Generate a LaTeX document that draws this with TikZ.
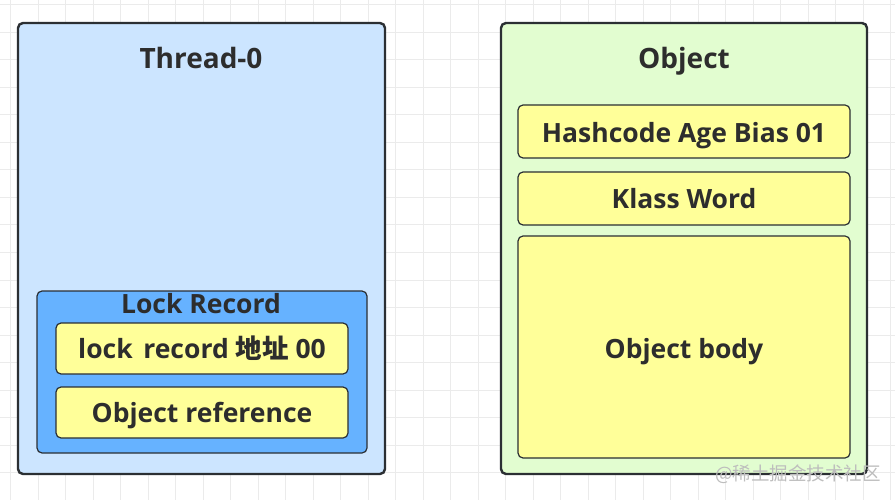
\documentclass[tikz,border=0pt]{standalone}
\usepackage{fontspec}
\setmainfont{Open Sans}
\newfontfamily\cjk{Noto Sans CJK SC}
\definecolor{bordc}{HTML}{2B2F33}
\definecolor{txtc}{HTML}{2D2D2D}
\definecolor{threadfill}{HTML}{CCE5FF}
\definecolor{lockfill}{HTML}{66B2FF}
\definecolor{yellowfill}{HTML}{FFFF99}
\definecolor{objfill}{HTML}{E2FDD0}
\definecolor{gridc}{HTML}{EBEBEB}
\definecolor{wmc}{HTML}{BDBDBD}
\begin{document}
\begin{tikzpicture}[x=1pt,y=-1pt,
  outerbox/.style={draw=bordc,line width=2.4pt,rounded corners=5pt},
  innerbox/.style={draw=bordc,line width=1.2pt,rounded corners=5pt},
  titletxt/.style={font=\fontsize{28}{32}\selectfont\bfseries,text=txtc,inner sep=0pt,anchor=base},
  labeltxt/.style={font=\fontsize{26.5}{30}\selectfont\bfseries,text=txtc,inner sep=0pt,anchor=base}]
\useasboundingbox (0,0) rectangle (895,500);
\fill[white] (0,0) rectangle (895,500);
% grid
\foreach \gx in {0,...,32} {\draw[gridc,line width=1pt] ({10.5+27.5*\gx},0) -- ({10.5+27.5*\gx},500);}
\foreach \gy in {0,...,18} {\draw[gridc,line width=1pt] (0,{5+27.5*\gy}) -- (895,{5+27.5*\gy});}
% Thread-0
\draw[outerbox,fill=threadfill] (18,23) rectangle (385,474);
\node[titletxt] (thread) at (201,69) {Thread-0};
\draw[innerbox,fill=lockfill] (37,291) rectangle (367,453);
\node[labeltxt] (lock) at (201,313) {Lock Record};
\draw[innerbox,fill=yellowfill] (56,323) rectangle (348,374);
\node[labeltxt] (lrec) at (202,358) {lock\hspace{0.4em}record {\cjk 地址} 00};
\draw[innerbox,fill=yellowfill] (56,387) rectangle (348,438);
\node[labeltxt] (oref) at (202,422) {Object reference};
% Object
\draw[outerbox,fill=objfill] (501,23) rectangle (867,474);
\node[titletxt] (obj) at (684,69) {Object};
\draw[innerbox,fill=yellowfill] (518,105) rectangle (850,158);
\node[labeltxt] (hash) at (684,143) {Hashcode Age Bias 01};
\draw[innerbox,fill=yellowfill] (518,172) rectangle (850,225);
\node[labeltxt] (klass) at (684,208) {Klass Word};
\draw[innerbox,fill=yellowfill] (518,236) rectangle (850,458);
\node[labeltxt] (body) at (684,358) {Object body};
% watermark text
\node[font=\cjk\fontsize{18.5}{22}\selectfont,text=wmc,inner sep=0pt,anchor=base] (wm) at (798,480) {@稀土掘金技术社区};
\end{tikzpicture}
\end{document}
